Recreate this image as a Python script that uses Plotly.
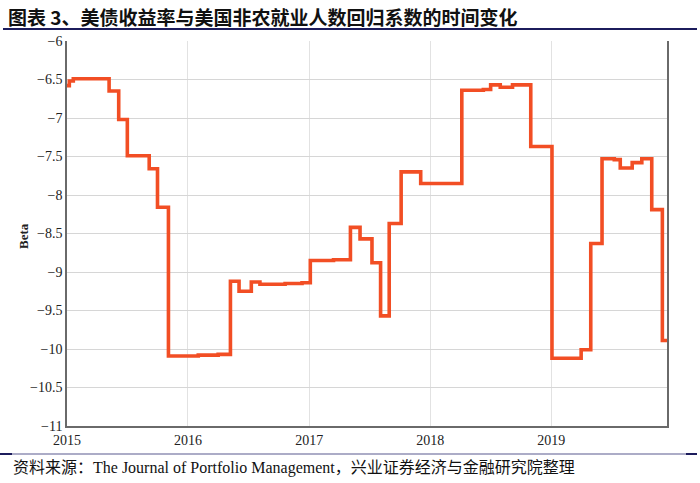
import plotly.graph_objects as go

# Step series: dates of each level change and value after the change
dates = [
    "2015-01-01", "2015-01-08", "2015-01-20", "2015-05-08", "2015-06-06",
    "2015-07-02", "2015-09-06", "2015-10-01", "2015-11-03", "2016-02-01",
    "2016-04-01", "2016-05-08", "2016-06-03", "2016-07-10", "2016-08-05",
    "2016-10-20", "2016-12-10", "2017-01-04", "2017-03-15", "2017-05-05",
    "2017-06-03", "2017-07-09", "2017-08-04", "2017-08-30", "2017-10-05",
    "2017-12-03", "2018-04-06", "2018-06-10", "2018-07-02", "2018-07-31",
    "2018-09-06", "2018-10-31", "2019-01-03", "2019-04-01", "2019-04-30",
    "2019-06-03", "2019-07-10", "2019-07-28", "2019-09-02", "2019-10-01",
    "2019-10-31", "2019-12-02", "2019-12-16",
]
beta = [
    -6.58, -6.52, -6.49, -6.65, -7.02,
    -7.49, -7.66, -8.16, -10.09, -10.08,
    -10.07, -9.12, -9.25, -9.13, -9.16,
    -9.15, -9.14, -8.85, -8.84, -8.42,
    -8.57, -8.88, -9.57, -8.37, -7.70,
    -7.85, -6.64, -6.63, -6.57, -6.60,
    -6.57, -7.37, -10.12, -10.01, -8.63,
    -7.53, -7.54, -7.65, -7.58, -7.53,
    -8.19, -9.89, -9.89,
]

x_ticks = ["2015-01-01", "2016-01-01", "2017-01-01", "2018-01-01", "2019-01-01"]
x_tick_labels = ["2015", "2016", "2017", "2018", "2019"]
y_ticks = [-6, -6.5, -7, -7.5, -8, -8.5, -9, -9.5, -10, -10.5, -11]

title_text = "<b>图表 3、美债收益率与美国非农就业人数回归系数的时间变化</b>"
source_text = "资料来源：The Journal of Portfolio Management，兴业证券经济与金融研究院整理"

fig = go.Figure()
fig.add_trace(go.Scatter(
    x=dates, y=beta, mode="lines",
    line=dict(color="#F24E24", width=3.6, shape="hv"),
    showlegend=False, hoverinfo="skip",
))

serif = "Liberation Serif, Noto Sans CJK SC, serif"

fig.update_layout(
    width=700, height=483,
    margin=dict(l=67, r=33, t=41, b=57, autoexpand=False),
    paper_bgcolor="white", plot_bgcolor="white",
    font=dict(family=serif, color="#222", size=14),
    xaxis=dict(
        range=["2015-01-01", "2019-12-16"], automargin=False,
        tickmode="array", tickvals=x_ticks, ticktext=x_tick_labels,
        showgrid=True, gridcolor="#e2e2e2", gridwidth=1,
        showline=True, linecolor="#6a6a6a", linewidth=1.5, mirror=False,
        ticks="", zeroline=False,
        tickfont=dict(family=serif, size=14, color="#222"),
    ),
    yaxis=dict(
        range=[-11, -6], automargin=False,
        tickmode="array", tickvals=y_ticks,
        showgrid=True, gridcolor="#d6d6d6", gridwidth=1,
        showline=True, linecolor="#6a6a6a", linewidth=1.5, mirror=True,
        ticks="", zeroline=False,
        tickfont=dict(family=serif, size=14, color="#222"),
    ),
)

# Y axis title
fig.add_annotation(
    text="<b>Beta</b>", xref="paper", yref="paper",
    x=(23 - 67) / 600, y=(426 - 236) / 385, xanchor="center", yanchor="middle",
    textangle=-90, showarrow=False,
    font=dict(family=serif, size=13, color="#222"),
)
# Title
fig.add_annotation(
    text=title_text, xref="paper", yref="paper",
    x=(6 - 67) / 600, y=(426 - 17) / 385, xanchor="left", yanchor="middle",
    showarrow=False,
    font=dict(family="Noto Sans CJK SC, sans-serif", size=19, color="#111"),
)
# Source
fig.add_annotation(
    text=source_text, xref="paper", yref="paper",
    x=(11 - 67) / 600, y=(426 - 468) / 385, xanchor="left", yanchor="middle",
    showarrow=False,
    font=dict(family=serif, size=16, color="#111"),
)

# Title underline
fig.add_shape(type="line", xref="paper", yref="paper",
              x0=(3 - 67) / 600, x1=(697 - 67) / 600,
              y0=(426 - 29) / 385, y1=(426 - 29) / 385,
              line=dict(color="#1c1c5c", width=2))
# Bottom rule
fig.add_shape(type="line", xref="paper", yref="paper",
              x0=(0 - 67) / 600, x1=(697 - 67) / 600,
              y0=(426 - 454) / 385, y1=(426 - 454) / 385,
              line=dict(color="#9090b4", width=1.5))
fig.add_shape(type="line", xref="paper", yref="paper",
              x0=(0 - 67) / 600, x1=(12 - 67) / 600,
              y0=(426 - 454) / 385, y1=(426 - 454) / 385,
              line=dict(color="#1c1c5c", width=2))
fig.add_shape(type="line", xref="paper", yref="paper",
              x0=(686 - 67) / 600, x1=(697 - 67) / 600,
              y0=(426 - 454) / 385, y1=(426 - 454) / 385,
              line=dict(color="#1c1c5c", width=2))

fig.write_html(
    "out.html",
    config={"displayModeBar": False},
    post_script="document.body.style.margin='0';document.body.style.overflow='hidden';",
)
